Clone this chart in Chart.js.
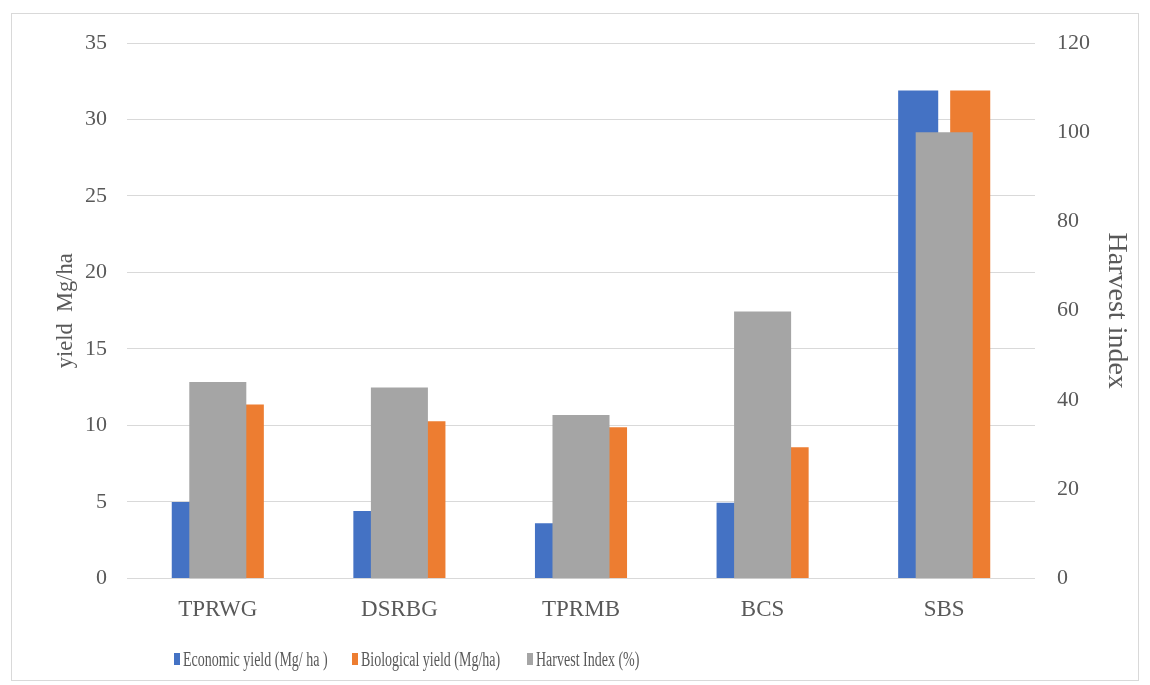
<!DOCTYPE html>
<html>
<head>
<meta charset="utf-8">
<script src="https://cdn.jsdelivr.net/npm/chart.js@4"></script>
<style>
  body { margin: 0; background: #fff; }
  #frame { position: absolute; left: 11px; top: 13px; width: 1128px; height: 668px; border: 1px solid #d9d9d9; box-sizing: border-box; }
  #legend { position: absolute; left: 0; top: 0; width: 1150px; height: 685px; pointer-events: none; }
  .item { position: absolute; top: 647px; height: 24px; display: flex; align-items: center; white-space: nowrap; }
  .box { width: 6px; height: 12px; margin-right: 3px; }
  .txt { font-family: "Liberation Serif", serif; font-size: 20px; color: #595959; transform: scaleX(0.7); transform-origin: left center; }
</style>
</head>
<body>
<div id="frame"><canvas id="chart"></canvas></div>
<div id="legend"></div>
<script>
// donnees
const categories = ['TPRWG', 'DSRBG', 'TPRMB', 'BCS', 'SBS'];
const economicYield = [5.0, 4.4, 3.6, 4.95, 31.9];
const biologicalYield = [11.36, 10.27, 9.88, 8.58, 31.9];
const harvestIndex = [44.0, 42.8, 36.6, 59.8, 100];
const seriesNames = ['Economic yield (Mg/ ha )', 'Biological yield (Mg/ha)', 'Harvest Index (%)'];
const seriesColors = ['#4472c4', '#ed7d31', '#a5a5a5'];
const leftTicks = [0, 5, 10, 15, 20, 25, 30, 35];
const rightTicks = [0, 20, 40, 60, 80, 100, 120];

const font = 'Liberation Serif';
const textColor = '#595959';

const ctx = document.getElementById('chart').getContext('2d');
const chart = new Chart(ctx, {
    type: 'bar',
    data: {
        labels: categories,
        datasets: [
            {
                label: seriesNames[0],
                data: economicYield,
                backgroundColor: seriesColors[0],
                yAxisID: 'y',
                categoryPercentage: 0.573, barPercentage: 0.77,
                order: 1
            },
            {
                label: seriesNames[1],
                data: biologicalYield,
                backgroundColor: seriesColors[1],
                yAxisID: 'y',
                categoryPercentage: 0.573, barPercentage: 0.77,
                order: 1
            },
            {
                label: seriesNames[2],
                data: harvestIndex,
                backgroundColor: seriesColors[2],
                yAxisID: 'y1',
                grouped: false, // centree sur la categorie
                categoryPercentage: 0.314, barPercentage: 1,
                order: 0 // dessinee par-dessus
            }
        ]
    },
    options: {
        responsive: true,
        maintainAspectRatio: false,
        animation: false,
        layout: { padding: { top: 29, bottom: 46, left: 0, right: 0 } },
        plugins: {
            legend: { display: false },
            tooltip: { enabled: false }
        },
        scales: {
            x: {
                offset: true,
                grid: { display: false },
                border: { display: false },
                ticks: { color: textColor, font: { family: font, size: 23 }, padding: 10 }
            },
            y: {
                position: 'left',
                min: 0, max: 35,
                afterBuildTicks: (s) => { s.ticks = leftTicks.map(v => ({ value: v })); },
                afterFit: (s) => { s.width = 115; s.paddingTop = 0; },
                grid: { color: '#d9d9d9', drawTicks: false },
                border: { display: false },
                ticks: { color: textColor, font: { family: font, size: 22 }, padding: 20 },
                title: { display: true, text: 'yield  Mg/ha', color: textColor, font: { family: font, size: 22.5 }, padding: { top: 41, bottom: 0 } }
            },
            y1: {
                position: 'right',
                min: 0, max: 120,
                afterBuildTicks: (s) => { s.ticks = rightTicks.map(v => ({ value: v })); },
                afterFit: (s) => { s.width = 103; s.paddingTop = 0; },
                grid: { display: false, drawTicks: false },
                border: { display: false },
                ticks: { color: textColor, font: { family: font, size: 22 }, padding: 22 },
                title: { display: true, text: 'Harvest index', color: textColor, font: { family: font, size: 28 }, padding: { top: 5, bottom: 0 } }
            }
        }
    }
});

// legende en HTML (texte resserre comme l'original)
const legendLeft = [174, 352, 527];
const legend = document.getElementById('legend');
seriesNames.forEach((name, i) => {
    const item = document.createElement('div');
    item.className = 'item';
    item.style.left = legendLeft[i] + 'px';
    item.innerHTML = '<span class="box" style="background:' + seriesColors[i] + '"></span><span class="txt">' + name + '</span>';
    legend.appendChild(item);
});
</script>
</body>
</html>
